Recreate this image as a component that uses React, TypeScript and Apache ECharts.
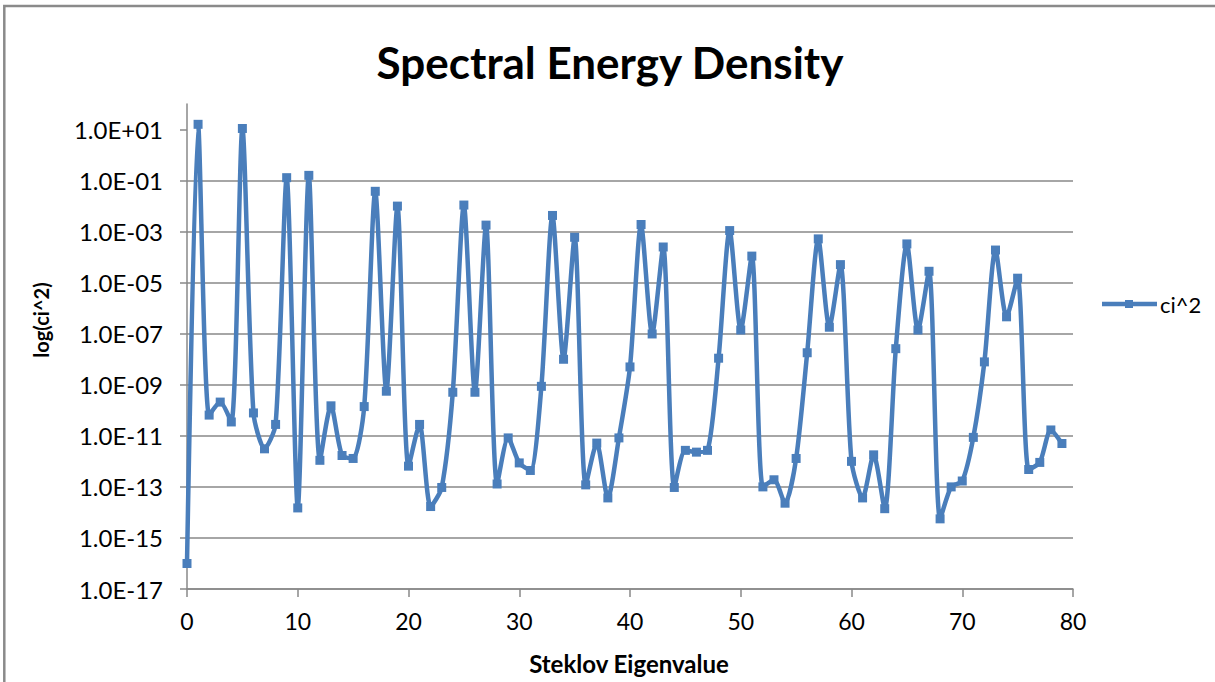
import React, { useEffect, useRef } from "react";
import * as echarts from "echarts";

// Spectral energy ci^2 for each Steklov eigenvalue index 0..79
const ciSquared: number[] = [
  1.0e-16, 1.6e1, 6.5e-11, 2.1e-10, 3.5e-11, 1.1e1, 7.9e-11, 3.1e-12, 2.8e-11, 1.3e-1,
  1.5e-14, 1.6e-1, 1.1e-12, 1.5e-10, 1.7e-12, 1.3e-12, 1.4e-10, 3.8e-2, 5.6e-10, 1.0e-2,
  6.5e-13, 2.8e-11, 1.7e-14, 9.5e-14, 5.1e-10, 1.1e-2, 5.1e-10, 1.8e-3, 1.3e-13, 8.3e-12,
  8.7e-13, 4.4e-13, 8.7e-10, 4.3e-3, 1.0e-8, 6.0e-4, 1.2e-13, 5.2e-12, 3.7e-14, 8.3e-12,
  5.0e-9, 1.9e-3, 9.8e-8, 2.5e-4, 9.5e-14, 2.7e-12, 2.3e-12, 2.7e-12, 1.1e-8, 1.1e-3,
  1.4e-7, 1.1e-4, 1.0e-13, 1.9e-13, 2.3e-14, 1.3e-12, 1.8e-8, 5.2e-4, 1.8e-7, 5.1e-5,
  1.0e-12, 3.7e-14, 1.8e-12, 1.4e-14, 2.6e-8, 3.3e-4, 1.4e-7, 2.8e-5, 5.6e-15, 1.0e-13,
  1.7e-13, 8.7e-12, 7.9e-9, 1.9e-4, 4.6e-7, 1.5e-5, 4.8e-13, 9.1e-13, 1.7e-11, 5.0e-12,
];

// y-axis tick values (every second decade)
const yTickValues: number[] = [1e-17, 1e-15, 1e-13, 1e-11, 1e-9, 1e-7, 1e-5, 1e-3, 1e-1, 1e1];
const yMax = 1e2;

const xTicks = { min: 0, max: 80, step: 10 };

const seriesName = "ci^2";
const titleText = "Spectral Energy Density";
const xAxisTitle = "Steklov Eigenvalue";
const yAxisTitle = "log(ci^2)";

const FONT = "Lato, 'Open Sans', 'DejaVu Sans', sans-serif";
const LINE_BLUE = "#4a7ebb";
const GRID_GRAY = "#888888";

function sciLabel(v: number): string {
  const e = Math.round(Math.log10(v));
  if (e > 1) return "";
  const sign = e < 0 ? "-" : "+";
  const abs = Math.abs(e);
  return "1.0E" + sign + (abs < 10 ? "0" + abs : String(abs));
}

export default function App() {
  const ref = useRef<HTMLDivElement>(null);

  useEffect(() => {
    if (!ref.current) return;
    const chart = echarts.init(ref.current, undefined, { renderer: "svg" });
    chart.setOption({
      animation: false,
      backgroundColor: "#ffffff",
      textStyle: { fontFamily: FONT },
      grid: { left: 187, right: 142, top: 104, bottom: 93, containLabel: false },
      xAxis: {
        type: "value",
        min: xTicks.min,
        max: xTicks.max,
        interval: xTicks.step,
        axisLine: { show: true, onZero: false, lineStyle: { color: GRID_GRAY, width: 1.5 } },
        axisTick: { show: true, inside: false, length: 8, lineStyle: { color: GRID_GRAY, width: 1.5 } },
        axisLabel: { color: "#000", fontFamily: FONT, fontSize: 23, margin: 20 },
        splitLine: { show: false },
      },
      yAxis: {
        type: "log",
        logBase: 10,
        min: yTickValues[0],
        max: yMax,
        interval: 2,
        axisLine: { show: true, lineStyle: { color: GRID_GRAY, width: 1.5 } },
        axisTick: {
          show: true,
          inside: false,
          length: 7,
          customValues: yTickValues,
          lineStyle: { color: GRID_GRAY, width: 1.5 },
        },
        axisLabel: {
          color: "#000",
          fontFamily: FONT,
          fontSize: 24,
          margin: 24,
          customValues: yTickValues,
          formatter: (v: number) => sciLabel(v),
        },
        splitLine: { show: true, showMaxLine: false, lineStyle: { color: GRID_GRAY, width: 1.5 } },
      },
      series: [
        {
          name: seriesName,
          type: "line",
          data: ciSquared.map((v, i) => [i, v]),
          smooth: 0.25,
          symbol: "rect",
          symbolSize: 9,
          lineStyle: { color: LINE_BLUE, width: 4.5 },
          itemStyle: { color: LINE_BLUE },
          clip: false,
        },
      ],
      graphic: [
        {
          type: "rect",
          shape: { x: 4.3, y: 6, width: 1400, height: 900 },
          style: { fill: "none", stroke: "#8a8a8a", lineWidth: 2.5 },
          silent: true,
        },
        {
          type: "text",
          x: 610,
          y: 62,
          style: {
            text: titleText,
            fontFamily: FONT,
            fontWeight: "bold",
            fontSize: 44,
            fill: "#000",
            textAlign: "center",
            textVerticalAlign: "middle",
          },
        },
        {
          type: "text",
          x: 629,
          y: 663,
          style: {
            text: xAxisTitle,
            fontFamily: FONT,
            fontWeight: "bold",
            fontSize: 24,
            fill: "#000",
            textAlign: "center",
            textVerticalAlign: "middle",
          },
        },
        {
          type: "text",
          x: 41,
          y: 320,
          rotation: Math.PI / 2,
          style: {
            text: yAxisTitle,
            fontFamily: FONT,
            fontWeight: "bold",
            fontSize: 20,
            fill: "#000",
            textAlign: "center",
            textVerticalAlign: "middle",
          },
        },
        // legend entry: line sample with square marker, then the series name
        {
          type: "line",
          shape: { x1: 1102, y1: 304, x2: 1157, y2: 304 },
          style: { stroke: LINE_BLUE, lineWidth: 4.5 },
        },
        {
          type: "rect",
          shape: { x: 1125, y: 300, width: 8, height: 8 },
          style: { fill: LINE_BLUE },
        },
        {
          type: "text",
          x: 1160,
          y: 304,
          style: {
            text: seriesName,
            fontFamily: FONT,
            fontSize: 22,
            fill: "#000",
            textAlign: "left",
            textVerticalAlign: "middle",
          },
        },
      ],
    });
    return () => chart.dispose();
  }, []);

  return (
    <div
      ref={ref}
      style={{ position: "fixed", left: 0, top: 0, width: 1215, height: 682, background: "#fff" }}
    />
  );
}
